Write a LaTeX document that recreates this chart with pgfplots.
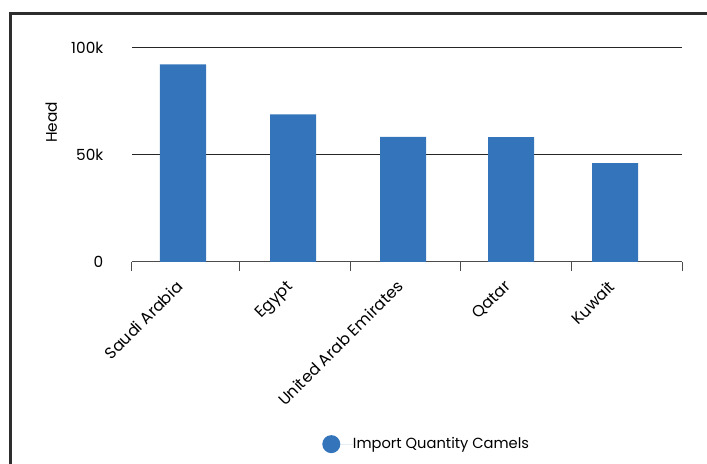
\documentclass[border=0pt]{standalone}
\usepackage{pgfplots}
\pgfplotsset{compat=1.18}
\usepackage{fontspec}
\setmainfont{Poppins}
\definecolor{barblue}{RGB}{52,116,187}
\definecolor{framegray}{RGB}{45,45,45}
\newcommand{\chartfont}{\fontsize{11pt}{13pt}\selectfont}
\newcommand{\tickfont}{\fontsize{12pt}{14pt}\selectfont}
\begin{document}
\begin{tikzpicture}[x=0.75pt,y=0.75pt]
\useasboundingbox (0,0) rectangle (707,464);
% outer frame (left and top edges)
\draw[framegray, line width=2.25pt] (10.5,-20) -- (10.5,450) -- (730,450);
\begin{axis}[
  at={(99pt,151.5pt)}, anchor=south west,
  scale only axis,
  width=412.5pt, height=161pt,
  xmin=132, xmax=682,
  ymin=0, ymax=100000,
  axis x line*=bottom,
  axis y line*=left,
  y axis line style={draw=none},
  x axis line style={draw=black!70, line width=0.75pt},
  ytick={0,50000,100000},
  yticklabels={0,50k,100k},
  scaled y ticks=false,
  ytick style={draw=none},
  yticklabel style={font=\fontsize{11.5pt}{13pt}\selectfont, xshift=-18pt},
  ymajorgrids,
  grid style={black!85, line width=0.75pt},
  xtick={183,293,403,511,615},
  xticklabels={Saudi Arabia,Egypt,United Arab Emirates,Qatar,Kuwait},
  xticklabel style={font=\tickfont, rotate=45, anchor=north east, inner sep=1pt, yshift=-4pt, xshift=-12pt},
  major x tick style={draw=none},
  extra x ticks={132,239,350,460.5,571.3,682},
  extra x tick labels={},
  extra x tick style={tick align=outside, major tick length=6.75pt, major x tick style={draw=black!70, line width=0.75pt}, xmajorgrids=false},
  legend style={at={(rel axis cs:0.3455,-0.8485)}, anchor=west, draw=none, fill=none,
    inner sep=0pt, font=\chartfont,
    nodes={inner sep=0pt}},
  legend image code/.code={\fill[barblue] (6.75pt,0pt) circle (6.75pt); \path (0pt,0pt) -- (23pt,0pt);},
  clip=false,
]
\addplot[ybar, bar width=34.5pt, fill=barblue, draw=none] coordinates {
  (183,92100) (293,68800) (403,58300) (511,58200) (615,46100)
};
\addlegendentry{Import Quantity Camels}
\node[rotate=90, font=\fontsize{11.5pt}{13pt}\selectfont] at (rel axis cs:-0.147,0.65) {Head};
\end{axis}
\end{tikzpicture}
\end{document}
